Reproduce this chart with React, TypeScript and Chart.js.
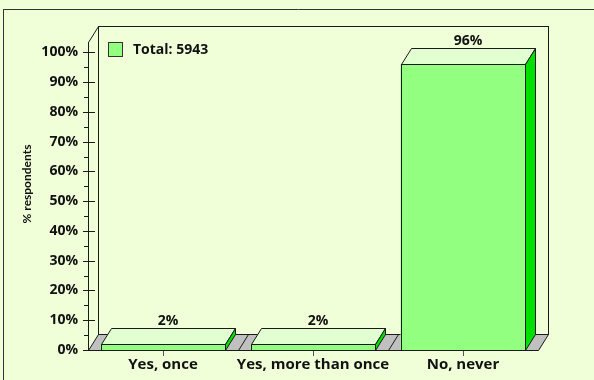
import React, { useEffect, useRef } from "react";
import { Chart, registerables } from "chart.js";

Chart.register(...registerables);

const categories = ["Yes, once", "Yes, more than once", "No, never"];
const values = [2, 2, 96];
const valueLabels = ["2%", "2%", "96%"];
const seriesLabel = "Total: 5943";
const yTickValues = [0, 10, 20, 30, 40, 50, 60, 70, 80, 90, 100];
const yMinorStep = 5;
const yAxisMax = 103.5;
const yTitle = "% respondents";

const BG = "#f0ffd8";
const FRONT = "#93ff80";
const TOP = "#e2ffd2";
const SIDE = "#00e000";
const FLOOR = "#c0c0c0";
const LINE = "#1a1a1a";
const DX = 10;
const DY = -16;
const FONT = "'Open Sans', Lato, sans-serif";
const TITLE_FONT = "Lato, 'Open Sans', sans-serif";

const px = (v: number) => Math.round(v) + 0.5;

const threeD = {
  id: "threeD",
  beforeDraw(chart: any) {
    const { ctx, width, height } = chart;
    ctx.save();
    ctx.fillStyle = BG;
    ctx.fillRect(0, 0, width, height);
    ctx.strokeStyle = "#333";
    ctx.lineWidth = 1;
    ctx.beginPath();
    ctx.moveTo(3, 9.5);
    ctx.lineTo(width, 9.5);
    ctx.moveTo(3.5, 9.5);
    ctx.lineTo(3.5, height);
    ctx.stroke();
    ctx.restore();
  },
  beforeDatasetsDraw(chart: any) {
    const { ctx, chartArea } = chart;
    const { left, right, top, bottom } = chartArea;
    const xs = chart.scales.x;
    const ys = chart.scales.y;
    ctx.save();
    ctx.lineWidth = 1;
    ctx.strokeStyle = LINE;
    const L = Math.round(left), R = Math.round(right), T = Math.round(top), B = Math.round(bottom);
    // back wall
    ctx.fillStyle = BG;
    ctx.fillRect(L + DX, T + DY, R - L, B - T);
    ctx.strokeRect(L + DX + 0.5, T + DY + 0.5, R - L, B - T);
    // left wall diagonal
    ctx.beginPath();
    ctx.moveTo(L + 0.5, T + 0.5);
    ctx.lineTo(L + DX + 0.5, T + DY + 0.5);
    ctx.stroke();
    // floor
    ctx.beginPath();
    ctx.moveTo(L + 0.5, B + 0.5);
    ctx.lineTo(R + 0.5, B + 0.5);
    ctx.lineTo(R + DX + 0.5, B + DY + 0.5);
    ctx.lineTo(L + DX + 0.5, B + DY + 0.5);
    ctx.closePath();
    ctx.fillStyle = FLOOR;
    ctx.fill();
    ctx.stroke();
    // category boundaries on floor
    for (let i = 1; i < categories.length; i++) {
      const xb = Math.round((xs.getPixelForValue(i - 1) + xs.getPixelForValue(i)) / 2);
      ctx.beginPath();
      ctx.moveTo(xb + 0.5, B + 0.5);
      ctx.lineTo(xb + DX + 0.5, B + DY + 0.5);
      ctx.stroke();
    }
    // y axis
    ctx.beginPath();
    ctx.moveTo(L + 0.5, T);
    ctx.lineTo(L + 0.5, B + 1);
    ctx.stroke();
    const maxTick = yTickValues[yTickValues.length - 1];
    for (let v = 0; v <= maxTick; v += yMinorStep) {
      const y = px(ys.getPixelForValue(v));
      const major = yTickValues.includes(v);
      ctx.beginPath();
      ctx.moveTo(major ? L - 5 : L - 4, y);
      ctx.lineTo(major ? L + 7 : L, y);
      ctx.stroke();
    }
    // x ticks
    ctx.strokeStyle = "#555";
    for (let i = 0; i < categories.length; i++) {
      const x = px(xs.getPixelForValue(i));
      ctx.beginPath();
      ctx.moveTo(x, B);
      ctx.lineTo(x, B + 6);
      ctx.stroke();
    }
    ctx.restore();
  },
  afterDatasetsDraw(chart: any) {
    const { ctx } = chart;
    const meta = chart.getDatasetMeta(0);
    ctx.save();
    ctx.lineWidth = 1;
    ctx.strokeStyle = LINE;
    meta.data.forEach((bar: any, i: number) => {
      const p = bar.getProps(["x", "y", "base", "width"], true);
      const x0 = Math.round(p.x - p.width / 2) + 0.5;
      const x1 = Math.round(p.x + p.width / 2) + 0.5;
      const yt = Math.round(p.y) + 0.5;
      const yb = Math.round(p.base) + 0.5;
      // front
      ctx.fillStyle = FRONT;
      ctx.fillRect(x0, yt, x1 - x0, yb - yt);
      ctx.strokeRect(x0, yt, x1 - x0, yb - yt);
      // top
      ctx.beginPath();
      ctx.moveTo(x0, yt);
      ctx.lineTo(x1, yt);
      ctx.lineTo(x1 + DX, yt + DY);
      ctx.lineTo(x0 + DX, yt + DY);
      ctx.closePath();
      ctx.fillStyle = TOP;
      ctx.fill();
      ctx.stroke();
      // side
      ctx.beginPath();
      ctx.moveTo(x1, yt);
      ctx.lineTo(x1 + DX, yt + DY);
      ctx.lineTo(x1 + DX, yb + DY);
      ctx.lineTo(x1, yb);
      ctx.closePath();
      ctx.fillStyle = SIDE;
      ctx.fill();
      ctx.stroke();
      // value label
      ctx.fillStyle = "#111";
      ctx.font = `bold 14px ${FONT}`;
      ctx.textAlign = "center";
      ctx.textBaseline = "alphabetic";
      ctx.fillText(valueLabels[i], p.x + DX / 2, yt + DY - 4);
    });
    // legend
    const ca = chart.chartArea;
    const lx = Math.round(ca.left) + 20;
    const ly = Math.round(ca.top);
    ctx.fillStyle = FRONT;
    ctx.fillRect(lx + 0.5, ly + 0.5, 14, 14);
    ctx.strokeStyle = "#333";
    ctx.strokeRect(lx + 0.5, ly + 0.5, 14, 14);
    ctx.fillStyle = "#111";
    ctx.font = `bold 14px ${FONT}`;
    ctx.textAlign = "left";
    ctx.textBaseline = "middle";
    ctx.fillText(chart.data.datasets[0].label, lx + 25, ly + 8);
    // y title
    ctx.save();
    ctx.translate(27, (ca.top + ca.bottom) / 2 - 12);
    ctx.rotate(-Math.PI / 2);
    ctx.font = `bold 12px ${TITLE_FONT}`;
    ctx.textAlign = "center";
    ctx.textBaseline = "middle";
    ctx.fillText(yTitle, 0, 0);
    ctx.restore();
    ctx.restore();
  },
};

export default function App() {
  const ref = useRef<HTMLCanvasElement>(null);
  useEffect(() => {
    if (!ref.current) return;
    const chart = new Chart(ref.current, {
      type: "bar",
      data: {
        labels: categories,
        datasets: [
          {
            label: seriesLabel,
            data: values,
            backgroundColor: FRONT,
            borderWidth: 0,
            barPercentage: 0.8333,
            categoryPercentage: 1,
          },
        ],
      },
      options: {
        responsive: false,
        animation: false,
        layout: { padding: { top: 42, right: 56, left: 0, bottom: 0 } },
        plugins: { legend: { display: false }, tooltip: { enabled: false } },
        scales: {
          x: {
            grid: { display: false, drawTicks: false },
            border: { display: false },
            ticks: {
              color: "#111",
              font: { family: FONT, size: 15, weight: "bold" },
              padding: 6,
              maxRotation: 0,
              minRotation: 0,
              autoSkip: false,
            },
            afterFit: (s: any) => { s.height = 30; },
          },
          y: {
            min: 0,
            max: yAxisMax,
            grid: { display: false, drawTicks: false },
            border: { display: false },
            afterBuildTicks: (s: any) => { s.ticks = yTickValues.map((v) => ({ value: v })); },
            ticks: {
              color: "#111",
              font: { family: FONT, size: 14, weight: "bold" },
              padding: 10,
              callback: (v: any) => `${v}%`,
            },
            afterFit: (s: any) => { s.width = 88; },
          },
        },
      },
      plugins: [threeD],
    });
    return () => chart.destroy();
  }, []);
  return (
    <div style={{ position: "absolute", left: 0, top: 0, width: 594, height: 380, background: BG }}>
      <canvas ref={ref} width={594} height={380} style={{ display: "block" }} />
    </div>
  );
}
